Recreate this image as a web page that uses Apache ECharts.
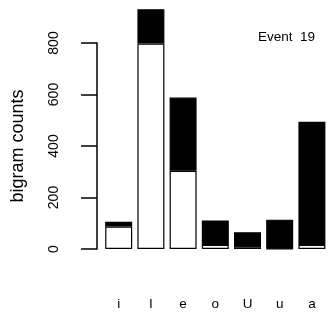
<!DOCTYPE html>
<html>
<head>
<meta charset="utf-8">
<script src="https://cdn.jsdelivr.net/npm/echarts@6/dist/echarts.min.js"></script>
<style>html,body{margin:0;padding:0;background:#fff}#c{width:328px;height:320px}</style>
</head>
<body>
<div id="c"></div>
<script>
var categories = ['i', 'I', 'e', 'o', 'U', 'u', 'a'];
var lowerCounts = [87, 798, 304, 16, 6, 1, 16];
var upperCounts = [19, 133, 284, 95, 59, 113, 478];
var yTicks = [0, 200, 400, 600, 800];
var titleText = 'Event  19';
var yName = 'bigram counts';

var font = 'Liberation Sans, Arial, Helvetica, sans-serif';
var chart = echarts.init(document.getElementById('c'), null, {renderer: 'canvas'});
chart.setOption({
  animation: false,
  backgroundColor: '#fff',
  title: {
    text: titleText,
    left: 258,
    top: 30,
    padding: 0,
    textStyle: {fontFamily: font, fontSize: 13.5, fontWeight: 'normal', color: '#000'}
  },
  grid: {left: 102.6, right: -3.4, top: 43, bottom: 71, containLabel: false},
  xAxis: {
    type: 'category',
    data: categories,
    axisLine: {show: false},
    axisTick: {show: false},
    axisLabel: {margin: 48, fontFamily: font, fontSize: 13.5, color: '#000'}
  },
  yAxis: {
    type: 'value',
    min: yTicks[0],
    max: yTicks[yTicks.length - 1],
    interval: 200,
    offset: 5.6,
    name: yName,
    nameLocation: 'middle',
    nameGap: 70,
    nameTextStyle: {fontFamily: font, fontSize: 18, color: '#000'},
    axisLine: {show: true, lineStyle: {color: '#000', width: 1.5}},
    axisTick: {show: true, length: 16, lineStyle: {color: '#000', width: 1.5}},
    splitLine: {show: false},
    axisLabel: {rotate: 90, margin: 36, fontFamily: font, fontSize: 14, color: '#000'}
  },
  series: [
    {
      type: 'bar', stack: 's', data: lowerCounts, barWidth: 27, clip: false,
      itemStyle: {color: '#fff', borderColor: '#000', borderWidth: 1.2}
    },
    {
      type: 'bar', stack: 's', data: upperCounts, barWidth: 27, clip: false,
      itemStyle: {color: '#000', borderColor: '#000', borderWidth: 1.2}
    }
  ]
});
</script>
</body>
</html>
